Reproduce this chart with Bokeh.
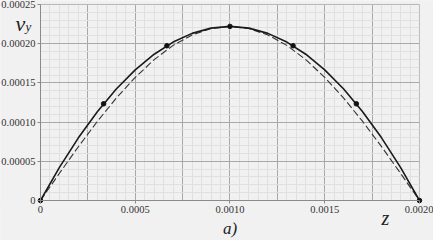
from bokeh.plotting import figure
from bokeh.models import (FixedTicker, NumeralTickFormatter, Label, Range1d, LinearAxis,
                          Grid, BoxAnnotation)
from bokeh.embed import file_html
from bokeh.resources import INLINE

# curve samples (z step 0.0001)
z_curve = [0.0000, 0.0001, 0.0002, 0.0003, 0.0004, 0.0005, 0.0006, 0.0007, 0.0008, 0.0009, 0.0010,
           0.0011, 0.0012, 0.0013, 0.0014, 0.0015, 0.0016, 0.0017, 0.0018, 0.0019, 0.0020]
vy_solid = [0.0, 0.0000422, 0.0000799, 0.0001132, 0.0001421, 0.0001665, 0.0001865, 0.0002020,
            0.0002131, 0.0002198, 0.0002220, 0.0002198, 0.0002131, 0.0002020, 0.0001865,
            0.0001665, 0.0001421, 0.0001132, 0.0000799, 0.0000422, 0.0]
vy_dashed = [0.0, 0.0000347, 0.0000686, 0.0001008, 0.0001305, 0.0001570, 0.0001796, 0.0001978,
             0.0002111, 0.0002193, 0.0002220, 0.0002193, 0.0002111, 0.0001978, 0.0001796,
             0.0001570, 0.0001305, 0.0001008, 0.0000686, 0.0000347, 0.0]
z_pts = [0.0, 0.000333, 0.000667, 0.0010, 0.001333, 0.001667, 0.0020]
vy_pts = [0.0, 0.0001233, 0.0001973, 0.0002220, 0.0001973, 0.0001233, 0.0]

x_ticks = [0.0, 0.0005, 0.0010, 0.0015, 0.0020]
y_ticks = [0.0, 0.00005, 0.00010, 0.00015, 0.00020, 0.00025]
x_grid_major = [0.0, 0.00025, 0.0005, 0.00075, 0.0010, 0.00125, 0.0015, 0.00175, 0.0020]
x_grid_minor = [i * 0.00005 for i in range(41)]
y_grid_minor = [i * 0.00001 for i in range(26)]

BG = "#f1f1f1"
FONT = "Liberation Serif"
p = figure(width=433, height=240, output_backend="svg", toolbar_location=None,
           x_axis_type=None, y_axis_type=None,
           x_range=Range1d(-0.000211, 0.002074), y_range=Range1d(-0.000051, 0.000255),
           background_fill_color=BG, border_fill_color=BG,
           min_border=0, min_border_left=0, min_border_right=0, min_border_top=0, min_border_bottom=0)
p.outline_line_color = None

# grids (major + minor)
xg = Grid(dimension=0, ticker=FixedTicker(ticks=x_grid_major, minor_ticks=x_grid_minor))
yg = Grid(dimension=1, ticker=FixedTicker(ticks=y_ticks, minor_ticks=y_grid_minor))
for g in (xg, yg):
    g.grid_line_color = "#a9a9a9"
    g.grid_line_width = 1
    g.minor_grid_line_color = "#e0e0e0"
    g.minor_grid_line_width = 1
    p.add_layout(g)

# cover the grid outside the data area
for l, r, b, t in [(-1, 0, -1, 1), (0.002, 1, -1, 1), (-1, 1, -1, 0), (-1, 1, 0.00025, 1)]:
    p.add_layout(BoxAnnotation(left=l, right=r, bottom=b, top=t, fill_color=BG, fill_alpha=1,
                               line_color=None, level="underlay"))
p.add_layout(BoxAnnotation(left=0, right=0.002, bottom=0, top=0.00025, fill_alpha=0,
                           line_color="#8a8a8a", line_width=1, level="underlay"))

xaxis = LinearAxis(fixed_location=0.0, bounds=(0, 0.002), ticker=FixedTicker(ticks=x_ticks),
                   formatter=NumeralTickFormatter(format="0.0000"),
                   major_label_overrides={0: "0"})
yaxis = LinearAxis(fixed_location=0.0, bounds=(0, 0.00025), ticker=FixedTicker(ticks=y_ticks),
                   formatter=NumeralTickFormatter(format="0.00000"),
                   major_label_overrides={0: "0"})
for ax in (xaxis, yaxis):
    ax.axis_line_color = "#8a8a8a"
    ax.major_tick_line_color = "#8a8a8a"
    ax.major_tick_out = 3
    ax.major_tick_in = 0
    ax.minor_tick_line_color = None
    ax.major_label_text_font = FONT
    ax.major_label_text_font_size = "10.5px"
    ax.major_label_text_color = "#333333"
    ax.major_label_standoff = 2
xaxis.axis_label = "a)"
xaxis.axis_label_text_font = FONT
xaxis.axis_label_text_font_style = "italic"
xaxis.axis_label_text_font_size = "17px"
xaxis.axis_label_text_color = "#222222"
xaxis.axis_label_standoff = 3
p.add_layout(xaxis, "below")
p.add_layout(yaxis, "left")

p.line(z_curve, vy_dashed, line_color="#333333", line_width=1.1, line_dash="7 3")
p.line(z_curve, vy_solid, line_color="#1a1a1a", line_width=1.6)
p.scatter(z_pts, vy_pts, size=4.5, color="#111111")

p.add_layout(Label(x=-0.000132, y=0.0002258, text="v", text_font=FONT, text_font_style="italic",
                   text_font_size="22px", text_color="#222222", text_baseline="alphabetic"))
p.add_layout(Label(x=-0.0000792, y=0.000222, text="y", text_font=FONT, text_font_style="italic",
                   text_font_size="13px", text_color="#222222", text_baseline="alphabetic"))
p.add_layout(Label(x=0.0017995, y=-0.0000217, text="z", text_font=FONT, text_font_style="italic",
                   text_font_size="20px", text_color="#222222", text_baseline="alphabetic"))

open("out.html", "w").write(file_html(p, INLINE))
